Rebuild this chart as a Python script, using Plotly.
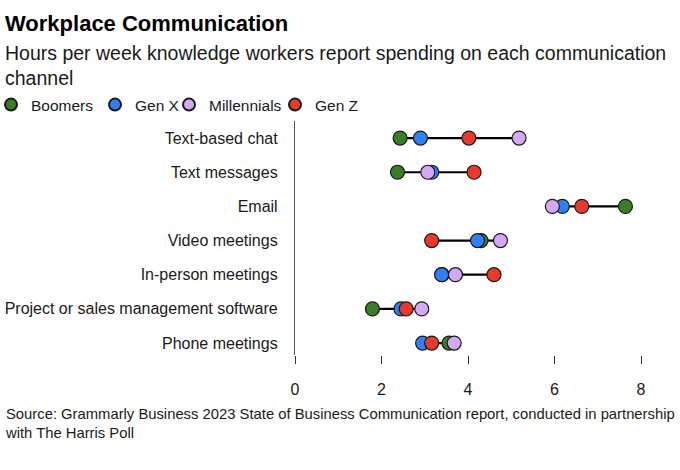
import plotly.graph_objects as go

categories = ["Text-based chat", "Text messages", "Email", "Video meetings",
              "In-person meetings", "Project or sales management software", "Phone meetings"]
boomers = [2.43, 2.37, 7.64, 4.30, 3.40, 1.79, 3.56]
gen_x = [2.90, 3.16, 6.18, 4.22, 3.39, 2.45, 2.95]
millennials = [5.18, 3.07, 5.95, 4.75, 3.71, 2.93, 3.68]
gen_z = [4.02, 4.14, 6.63, 3.16, 4.60, 2.57, 3.16]
x_ticks = [0, 2, 4, 6, 8]

series = [("Boomers", boomers, "#3b7d26"),
          ("Gen X", gen_x, "#2f7ff5"),
          ("Millennials", millennials, "#d5a8f4"),
          ("Gen Z", gen_z, "#e8392c")]

W, H = 680, 470
L, R, T, B = 295, 10, 121, 115
pw, ph = W - L - R, H - T - B

def px(x):
    return (x - L) / pw

def py(y):
    return (H - B - y) / ph

fig = go.Figure()

# connecting lines (min to max per category)
for i, cat in enumerate(categories):
    vals = [s[1][i] for s in series]
    fig.add_trace(go.Scatter(x=[min(vals), max(vals)], y=[i, i], mode="lines",
                             line=dict(color="#000000", width=2.2),
                             showlegend=False, hoverinfo="skip"))

legend_ids = ["legend", "legend2", "legend3", "legend4"]
legend_px = [-9, 95, 169, 275]

for (name, vals, color), lid in zip(series, legend_ids):
    fig.add_trace(go.Scatter(x=vals, y=list(range(len(categories))), mode="markers",
                             name=name, legend=lid,
                             marker=dict(size=14, color=color,
                                         line=dict(color="#1a1a1a", width=1.2))))

font_family = "Liberation Sans, Arial, sans-serif"

legend_layout = {}
for lid, lx in zip(legend_ids, legend_px):
    legend_layout[lid] = dict(orientation="h", x=px(lx), y=py(105), xanchor="left",
                              yanchor="middle", font=dict(size=15.5, color="#1a1a1a"),
                              itemsizing="constant", bgcolor="rgba(0,0,0,0)", itemwidth=30)

fig.update_layout(
    width=W, height=H,
    margin=dict(l=L, r=R, t=T, b=B, autoexpand=False),
    paper_bgcolor="white", plot_bgcolor="white",
    font=dict(family=font_family, color="#1a1a1a", size=15),
    showlegend=True,
    xaxis=dict(range=[0, 8.67], tickvals=x_ticks, ticktext=[str(v) for v in x_ticks],
               showgrid=False, zeroline=False, showline=False, automargin=False,
               ticks="outside", ticklen=8, tickwidth=1.3, tickcolor="#333333",
               ticklabelstandoff=12,
               tickfont=dict(size=16, color="#1a1a1a")),
    yaxis=dict(range=[6.35, -0.5], tickvals=list(range(len(categories))), ticktext=categories,
               showgrid=False, zeroline=False, showline=True, linecolor="#555555",
               linewidth=1.3, ticks="", ticklabelstandoff=13, automargin=False,
               tickfont=dict(size=16, color="#1a1a1a")),
    annotations=[
        dict(text="<b>Workplace Communication</b>", xref="paper", yref="paper",
             x=px(3), y=py(24), xanchor="left", yanchor="middle", showarrow=False,
             font=dict(size=22, color="#000000")),
        dict(text="Hours per week knowledge workers report spending on each communication<br>channel",
             xref="paper", yref="paper", x=px(3), y=py(66), xanchor="left", yanchor="middle",
             align="left", showarrow=False, font=dict(size=19.5, color="#1a1a1a")),
        dict(text="Source: Grammarly Business 2023 State of Business Communication report, conducted in partnership<br>with The Harris Poll",
             xref="paper", yref="paper", x=px(3), y=py(423), xanchor="left", yanchor="middle",
             align="left", showarrow=False, font=dict(size=14.8, color="#1a1a1a")),
    ],
    **legend_layout,
)

fig.write_html("out.html", config={"displayModeBar": False},
               post_script="document.body.style.margin='0';")
